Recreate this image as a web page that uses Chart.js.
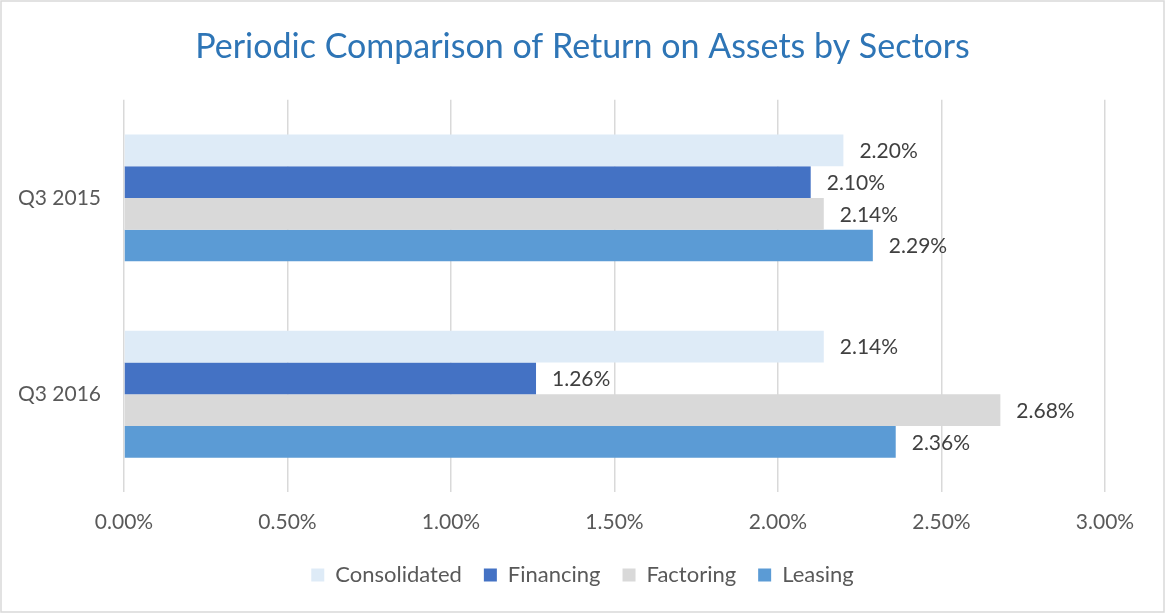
<!DOCTYPE html>
<html lang="en">
<head>
    <meta charset="UTF-8">
    <title>Return on Assets by Sectors</title>
    <style>
        html, body { margin: 0; padding: 0; background: #fff; }
        #wrap { width: 1165px; height: 613px; }
    </style>
</head>
<body>

    <div id="wrap">
        <canvas id="myChart" width="1165" height="613"></canvas>
    </div>

    <script src="https://cdn.jsdelivr.net/npm/chart.js@4.4.1/dist/chart.umd.min.js"></script>

    <script>
        // data
        var periods = ['Q3 2015', 'Q3 2016'];
        var consolidated = [2.20, 2.14];
        var financing = [2.10, 1.26];
        var factoring = [2.14, 2.68];
        var leasing = [2.29, 2.36];
        var tickValues = [0, 0.5, 1, 1.5, 2, 2.5, 3];

        var FONT = 'Lato, "Liberation Sans", sans-serif';
        var textGray = '#595959';

        // white page with a thin grey frame, like the office chart
        var frame = {
            id: 'frame',
            beforeDraw: function (chart) {
                var ctx = chart.ctx;
                ctx.save();
                ctx.fillStyle = '#ffffff';
                ctx.fillRect(0, 0, chart.width, chart.height);
                ctx.strokeStyle = '#d9d9d9';
                ctx.lineWidth = 1.5;
                ctx.strokeRect(1, 1, chart.width - 2, chart.height - 2);
                ctx.restore();
            }
        };

        // value labels just past the end of each bar
        var valueLabels = {
            id: 'valueLabels',
            afterDatasetsDraw: function (chart) {
                var ctx = chart.ctx;
                ctx.save();
                ctx.font = '21px ' + FONT;
                ctx.fillStyle = '#404040';
                ctx.textAlign = 'left';
                ctx.textBaseline = 'middle';
                chart.data.datasets.forEach(function (ds, i) {
                    var meta = chart.getDatasetMeta(i);
                    meta.data.forEach(function (bar, j) {
                        ctx.fillText(ds.data[j].toFixed(2) + '%', bar.x + 16, bar.y + 1);
                    });
                });
                ctx.restore();
            }
        };

        function createChart() {
            var ctx = document.getElementById('myChart').getContext('2d');
            var myChart = new Chart(ctx, {
                type: 'bar',
                data: {
                    labels: periods,
                    datasets: [
                        { label: 'Consolidated', data: consolidated, backgroundColor: '#deebf7' },
                        { label: 'Financing', data: financing, backgroundColor: '#4472c4' },
                        { label: 'Factoring', data: factoring, backgroundColor: '#d9d9d9' },
                        { label: 'Leasing', data: leasing, backgroundColor: '#5b9bd5' }
                    ]
                },
                options: {
                    indexAxis: 'y',
                    responsive: false,
                    animation: false,
                    categoryPercentage: 0.646,
                    barPercentage: 1,
                    layout: { padding: { left: 0, right: 0, top: 0, bottom: 17 } },
                    plugins: {
                        title: {
                            display: true,
                            text: 'Periodic Comparison of Return on Assets by Sectors',
                            color: '#2e75b6',
                            font: { family: FONT, size: 34, weight: 'normal' },
                            padding: { top: 27, bottom: 32 }
                        },
                        legend: {
                            position: 'bottom',
                            labels: {
                                color: textGray,
                                font: { family: FONT, size: 22 },
                                boxWidth: 13,
                                boxHeight: 13,
                                padding: 22
                            }
                        },
                        tooltip: { enabled: false }
                    },
                    scales: {
                        x: {
                            min: 0,
                            max: 3,
                            afterBuildTicks: function (scale) {
                                scale.ticks = tickValues.map(function (v) { return { value: v }; });
                            },
                            afterFit: function (scale) { scale.height = 49.6; },
                            grid: { color: '#d9d9d9', lineWidth: 1.5, drawTicks: false },
                            border: { display: false },
                            ticks: {
                                color: textGray,
                                font: { family: FONT, size: 21 },
                                padding: 17,
                                maxRotation: 0,
                                callback: function (v) { return Number(v).toFixed(2) + '%'; }
                            }
                        },
                        y: {
                            afterFit: function (scale) { scale.width = 124; },
                            grid: { display: false },
                            border: { display: false },
                            ticks: {
                                color: textGray,
                                font: { family: FONT, size: 21 },
                                padding: 15
                            }
                        },
                        // empty strip on the right so the plot ends at 3.00% while the title stays centred
                        yRight: {
                            position: 'right',
                            afterFit: function (scale) { scale.width = 60; },
                            grid: { display: false },
                            border: { display: false },
                            ticks: { display: false }
                        }
                    }
                },
                plugins: [frame, valueLabels]
            });
        }

        createChart();
    </script>

</body>
</html>
